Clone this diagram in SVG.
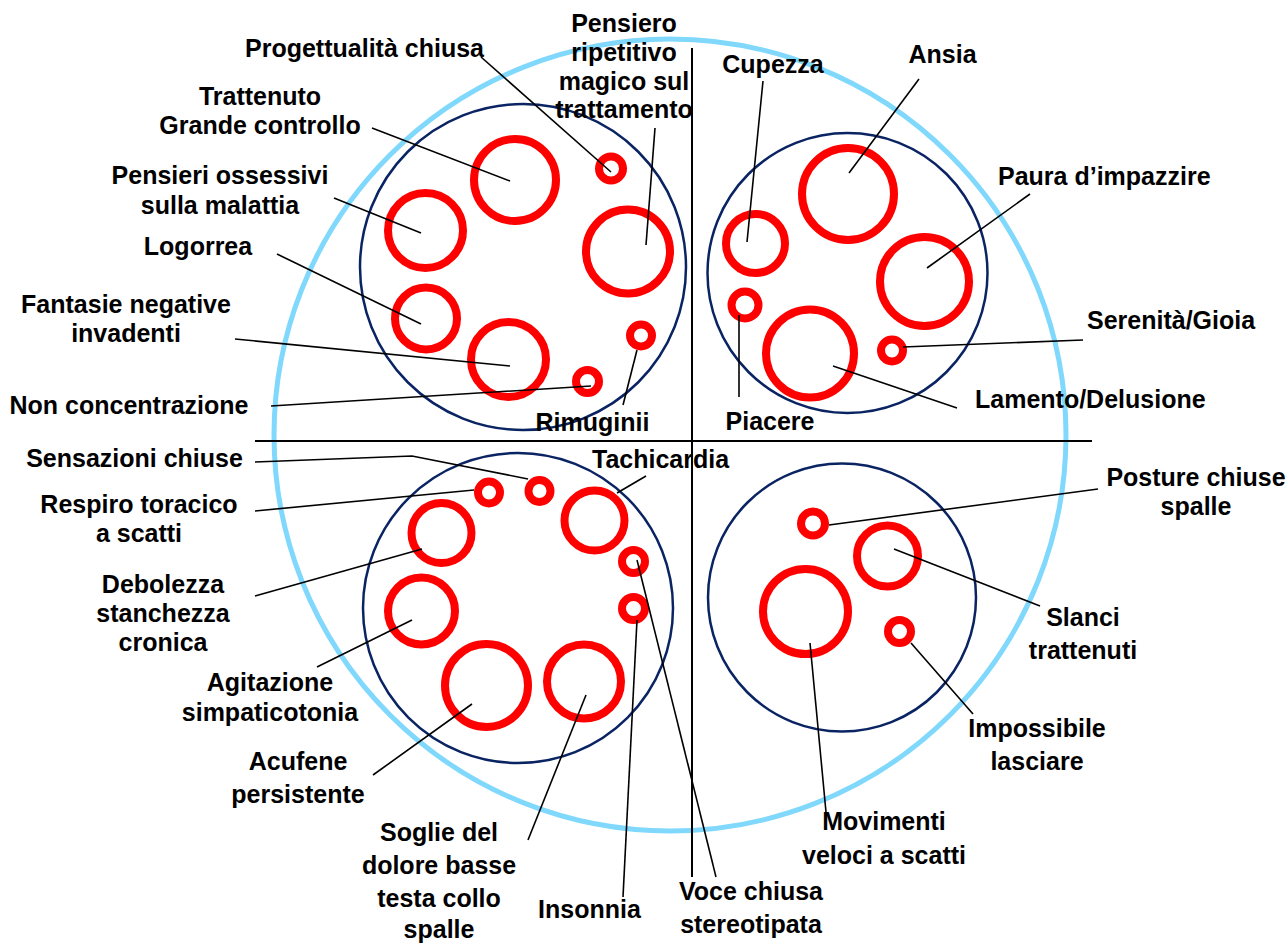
<svg xmlns="http://www.w3.org/2000/svg" width="1288" height="944" viewBox="0 0 1288 944">
<style>
.outer{fill:none;stroke:#80d8fc;stroke-width:5}
.quad{fill:none;stroke:#0a2463;stroke-width:2.5}
.ring{fill:none;stroke:#ff0000;stroke-width:8}
.ln{fill:none;stroke:#000;stroke-width:1.6}
.axis{fill:none;stroke:#000;stroke-width:2}
text{font-family:"Liberation Sans",Arial,sans-serif;font-weight:bold;font-size:25px;fill:#000}
.c{text-anchor:middle}
</style>
<rect width="1288" height="944" fill="#fff"/>
<g id="outer-circle"><circle class="outer" cx="670" cy="435" r="396"/></g>
<g id="quadrants">
<circle id="q-mind" class="quad" cx="523" cy="267" r="163"/>
<circle id="q-emotion" class="quad" cx="847.5" cy="273" r="140"/>
<circle id="q-body" class="quad" cx="518" cy="608" r="155"/>
<circle id="q-behaviour" class="quad" cx="842" cy="597.5" r="134"/>
</g>
<g id="axes">
<line class="axis" x1="255" y1="441" x2="1092" y2="441"/>
<line class="axis" x1="692" y1="48" x2="692" y2="877"/>
</g>
<g id="rings">
<circle id="r-trattenuto" class="ring" cx="515" cy="180" r="41"/>
<circle id="r-ossessivi" class="ring" cx="425.5" cy="230.5" r="37.5"/>
<circle id="r-logorrea" class="ring" cx="426" cy="318.5" r="31"/>
<circle id="r-fantasie" class="ring" cx="508.5" cy="359.5" r="37.5"/>
<circle id="r-nonconc" class="ring" cx="587.5" cy="381.5" r="11.5"/>
<circle id="r-rimuginii" class="ring" cx="641" cy="335.5" r="11"/>
<circle id="r-progett" class="ring" cx="611" cy="168.5" r="12"/>
<circle id="r-pensiero" class="ring" cx="628" cy="251.5" r="42"/>
<circle id="r-ansia" class="ring" cx="848" cy="194" r="46"/>
<circle id="r-cupezza" class="ring" cx="755.5" cy="243.5" r="29.5"/>
<circle id="r-piacere" class="ring" cx="745" cy="305" r="13.5"/>
<circle id="r-paura" class="ring" cx="924.5" cy="281.5" r="44.5"/>
<circle id="r-lamento" class="ring" cx="810" cy="353.5" r="44"/>
<circle id="r-serenita" class="ring" cx="892" cy="350.5" r="11"/>
<circle id="r-sensazioni" class="ring" cx="539.5" cy="491" r="11"/>
<circle id="r-respiro" class="ring" cx="489" cy="492.5" r="11"/>
<circle id="r-tachicardia" class="ring" cx="594.5" cy="520.5" r="30"/>
<circle id="r-debolezza" class="ring" cx="441.5" cy="533" r="30"/>
<circle id="r-voce" class="ring" cx="633.5" cy="561.5" r="11.5"/>
<circle id="r-insonnia" class="ring" cx="633.5" cy="608.5" r="11.5"/>
<circle id="r-agitazione" class="ring" cx="421.5" cy="611" r="33.5"/>
<circle id="r-acufene" class="ring" cx="486.5" cy="685.5" r="41.5"/>
<circle id="r-soglie" class="ring" cx="584" cy="681.5" r="37"/>
<circle id="r-posture" class="ring" cx="813" cy="523.5" r="12"/>
<circle id="r-slanci" class="ring" cx="887.5" cy="556" r="30.5"/>
<circle id="r-movimenti" class="ring" cx="805.5" cy="611.5" r="42.5"/>
<circle id="r-impossibile" class="ring" cx="899.5" cy="631.5" r="11.5"/>
</g>
<g id="connectors">
<line class="ln" x1="372" y1="128" x2="510" y2="181"/>
<line class="ln" x1="334" y1="198" x2="421" y2="233"/>
<line class="ln" x1="277" y1="254" x2="421" y2="324"/>
<line class="ln" x1="235" y1="339" x2="510" y2="366"/>
<line class="ln" x1="271" y1="406" x2="591" y2="386"/>
<line class="ln" x1="623" y1="405" x2="637" y2="350"/>
<line class="ln" x1="481" y1="57" x2="611" y2="172"/>
<line class="ln" x1="655" y1="128" x2="646" y2="245"/>
<line class="ln" x1="763" y1="81" x2="747" y2="242"/>
<line class="ln" x1="919" y1="79" x2="849" y2="173"/>
<line class="ln" x1="1030" y1="194" x2="927" y2="268"/>
<line class="ln" x1="903" y1="347" x2="1083" y2="340"/>
<line class="ln" x1="833" y1="366" x2="957" y2="408"/>
<line class="ln" x1="739" y1="315" x2="739" y2="397"/>
<polyline class="ln" points="255,462 412,456 528,479"/>
<line class="ln" x1="255" y1="511" x2="474" y2="490"/>
<line class="ln" x1="255" y1="596" x2="422" y2="549"/>
<line class="ln" x1="317" y1="667" x2="412" y2="620"/>
<line class="ln" x1="373" y1="775" x2="472" y2="704"/>
<line class="ln" x1="528" y1="840" x2="586" y2="695"/>
<line class="ln" x1="623" y1="897" x2="637" y2="620"/>
<line class="ln" x1="637" y1="560" x2="716" y2="877"/>
<line class="ln" x1="646" y1="476" x2="617" y2="493"/>
<line class="ln" x1="829" y1="525" x2="1098" y2="489"/>
<line class="ln" x1="894" y1="549" x2="1040" y2="606"/>
<line class="ln" x1="911" y1="643" x2="973" y2="714"/>
<line class="ln" x1="810" y1="643" x2="826" y2="812"/>
</g>
<g id="label-pensiero"><text class="c" x="624"><tspan x="624" y="32">Pensiero</tspan><tspan x="624" y="61">ripetitivo</tspan><tspan x="624" y="90">magico sul</tspan><tspan x="624" y="118">trattamento</tspan></text></g>
<g id="label-progettualita"><text class="c" x="364.5" y="57">Progettualità chiusa</text></g>
<g id="label-trattenuto"><text class="c"><tspan x="260" y="105">Trattenuto</tspan><tspan x="260" y="134">Grande controllo</tspan></text></g>
<g id="label-ossessivi"><text class="c"><tspan x="220" y="184">Pensieri ossessivi</tspan><tspan x="220" y="214">sulla malattia</tspan></text></g>
<g id="label-logorrea"><text class="c" x="198" y="255">Logorrea</text></g>
<g id="label-fantasie"><text class="c"><tspan x="126" y="313">Fantasie negative</tspan><tspan x="126" y="342">invadenti</tspan></text></g>
<g id="label-nonconc"><text class="c" x="129" y="414">Non concentrazione</text></g>
<g id="label-rimuginii"><text class="c" x="592.5" y="431">Rimuginii</text></g>
<g id="label-cupezza"><text class="c" x="773" y="73">Cupezza</text></g>
<g id="label-ansia"><text class="c" x="942.5" y="63">Ansia</text></g>
<g id="label-paura"><text x="998" y="185">Paura d’impazzire</text></g>
<g id="label-serenita"><text x="1087" y="329">Serenità/Gioia</text></g>
<g id="label-lamento"><text x="975" y="408">Lamento/Delusione</text></g>
<g id="label-piacere"><text class="c" x="770" y="430">Piacere</text></g>
<g id="label-tachicardia"><text x="592" y="468">Tachicardia</text></g>
<g id="label-sensazioni"><text class="c" x="134.5" y="467">Sensazioni chiuse</text></g>
<g id="label-respiro"><text class="c"><tspan x="139" y="513">Respiro toracico</tspan><tspan x="139" y="542">a scatti</tspan></text></g>
<g id="label-debolezza"><text class="c"><tspan x="163" y="593">Debolezza</tspan><tspan x="163" y="622">stanchezza</tspan><tspan x="163" y="651">cronica</tspan></text></g>
<g id="label-agitazione"><text class="c"><tspan x="270" y="691">Agitazione</tspan><tspan x="270" y="721">simpaticotonia</tspan></text></g>
<g id="label-acufene"><text class="c"><tspan x="298" y="770">Acufene</tspan><tspan x="298" y="803">persistente</tspan></text></g>
<g id="label-soglie"><text class="c"><tspan x="439" y="841">Soglie del</tspan><tspan x="439" y="874">dolore basse</tspan><tspan x="439" y="907">testa collo</tspan><tspan x="439" y="938">spalle</tspan></text></g>
<g id="label-insonnia"><text class="c" x="589.5" y="918">Insonnia</text></g>
<g id="label-voce"><text class="c"><tspan x="751" y="900">Voce chiusa</tspan><tspan x="751" y="933">stereotipata</tspan></text></g>
<g id="label-movimenti"><text class="c"><tspan x="884" y="830">Movimenti</tspan><tspan x="884" y="864">veloci a scatti</tspan></text></g>
<g id="label-impossibile"><text class="c"><tspan x="1037" y="737">Impossibile</tspan><tspan x="1037" y="770">lasciare</tspan></text></g>
<g id="label-slanci"><text class="c"><tspan x="1083" y="626">Slanci</tspan><tspan x="1083" y="659">trattenuti</tspan></text></g>
<g id="label-posture"><text class="c"><tspan x="1196" y="486">Posture chiuse</tspan><tspan x="1196" y="515">spalle</tspan></text></g>
</svg>
